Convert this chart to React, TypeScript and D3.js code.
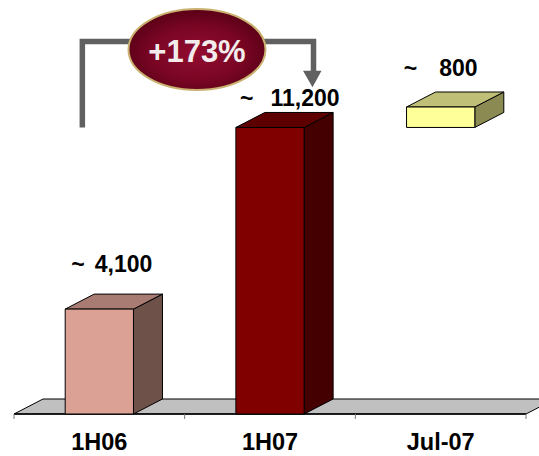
import React from "react";
import * as d3 from "d3";

// Periods, their bases (for the floating Jul-07 step) and increments
const categories = ["1H06", "1H07", "Jul-07"];
const baseValues = [0, 0, 11200];
const values = [4100, 11200, 800];
const valueLabels = ["4,100", "11,200", "800"];
const growthLabel = "+173%";

// face colours per bar: front, top, side
const frontColors = ["#DCA195", "#800000", "#FFFF99"];
const topColors = ["#A87C72", "#5E0000", "#BFBF78"];
const sideColors = ["#6E524A", "#440000", "#8A8A52"];

const W = 539;
const H = 456;
const DX = 29;
const DY = -15;
const FONT = "'Liberation Sans', Arial, Helvetica, sans-serif";

// placement of the "~" and the number above each bar
const labelLayout = [
  { tilde: -28, num: -4.5, dy: -37.5 },
  { tilde: -30, num: 0.5, dy: -21.5 },
  { tilde: -37, num: -1.5, dy: -31 },
];

export default function App() {
  const x = d3.scaleBand<string>().domain(categories).range([14, 526]).padding(0);
  const y = d3.scaleLinear().domain([0, 12000]).range([414, 107]);
  const bw = x.bandwidth() * 0.4;

  const floorY = y(0);
  const floor = [
    [14, floorY],
    [526, floorY],
    [526 + DX, floorY + DY],
    [14 + DX, floorY + DY],
  ];
  const tickXs = [...categories.map((c) => x(c) as number), 526];

  const pts = (p: number[][]) => p.map((q) => q.join(",")).join(" ");

  const cx0 = (x(categories[0]) as number) + x.bandwidth() / 2;
  const cx1 = (x(categories[1]) as number) + x.bandwidth() / 2;
  const lineY = 41.5;
  const leftX = cx0 - 17;
  const rightX = cx1 + 43.5;
  const arrowBase = 70.7;
  const arrowTip = 87.3;

  return (
    <svg
      width={W}
      height={H}
      style={{ position: "absolute", left: 0, top: 0, background: "#fff" }}
      fontFamily={FONT}
    >
      <defs>
        <radialGradient id="pill" cx="50%" cy="55%" r="55%">
          <stop offset="0%" stopColor="#920C30" />
          <stop offset="60%" stopColor="#7A0624" />
          <stop offset="100%" stopColor="#5A0016" />
        </radialGradient>
      </defs>

      {/* floor */}
      <polygon points={pts(floor)} fill="#C0C0C0" stroke="#000" strokeWidth={1} />
      <line x1={14} x2={526} y1={floorY} y2={floorY} stroke="#000" strokeWidth={1.5} />
      {tickXs.map((tx, i) => (
        <line key={i} x1={tx} x2={tx} y1={floorY} y2={floorY + 5} stroke="#777" strokeWidth={1} />
      ))}

      {/* 3D bars */}
      {categories.map((c, i) => {
        const cx = (x(c) as number) + x.bandwidth() / 2;
        const x0 = cx - bw / 2;
        const x1 = cx + bw / 2;
        const yb = y(baseValues[i]);
        const yt = y(baseValues[i] + values[i]);
        const front = [[x0, yt], [x1, yt], [x1, yb], [x0, yb]];
        const top = [[x0, yt], [x0 + DX, yt + DY], [x1 + DX, yt + DY], [x1, yt]];
        const side = [[x1, yt], [x1 + DX, yt + DY], [x1 + DX, yb + DY], [x1, yb]];
        return (
          <g key={c} stroke="#000" strokeWidth={1} strokeLinejoin="round">
            <polygon points={pts(side)} fill={sideColors[i]} />
            <polygon points={pts(top)} fill={topColors[i]} />
            <polygon points={pts(front)} fill={frontColors[i]} />
          </g>
        );
      })}

      {/* value labels */}
      {categories.map((c, i) => {
        const cx = (x(c) as number) + x.bandwidth() / 2;
        const yt = y(baseValues[i] + values[i]);
        const l = labelLayout[i];
        return (
          <g key={c} fontSize={23} fontWeight="bold" fill="#000">
            <text x={cx + l.tilde} y={yt + l.dy}>~</text>
            <text x={cx + l.num} y={yt + l.dy}>{valueLabels[i]}</text>
          </g>
        );
      })}

      {/* category labels */}
      {categories.map((c) => (
        <text
          key={c}
          x={(x(c) as number) + x.bandwidth() / 2}
          y={449.5}
          textAnchor="middle"
          fontSize={23.5}
          fontWeight="bold"
          fill="#000"
        >
          {c}
        </text>
      ))}

      {/* growth connector */}
      <path
        d={`M${leftX},${y(11200)} V${lineY} H${rightX} V${arrowBase + 1}`}
        fill="none"
        stroke="#606060"
        strokeWidth={5.5}
      />
      <polygon
        points={pts([
          [rightX - 10.5, arrowBase],
          [rightX + 8, arrowBase],
          [rightX - 1, arrowTip],
        ])}
        fill="#606060"
      />
      <ellipse cx={197} cy={49.5} rx={68.5} ry={40.5} fill="url(#pill)" stroke="#C9B170" strokeWidth={2} />
      <text
        x={197}
        y={61.5}
        textAnchor="middle"
        fontSize={31}
        fontWeight="bold"
        fill="#F2ECEC"
      >
        {growthLabel}
      </text>
    </svg>
  );
}
